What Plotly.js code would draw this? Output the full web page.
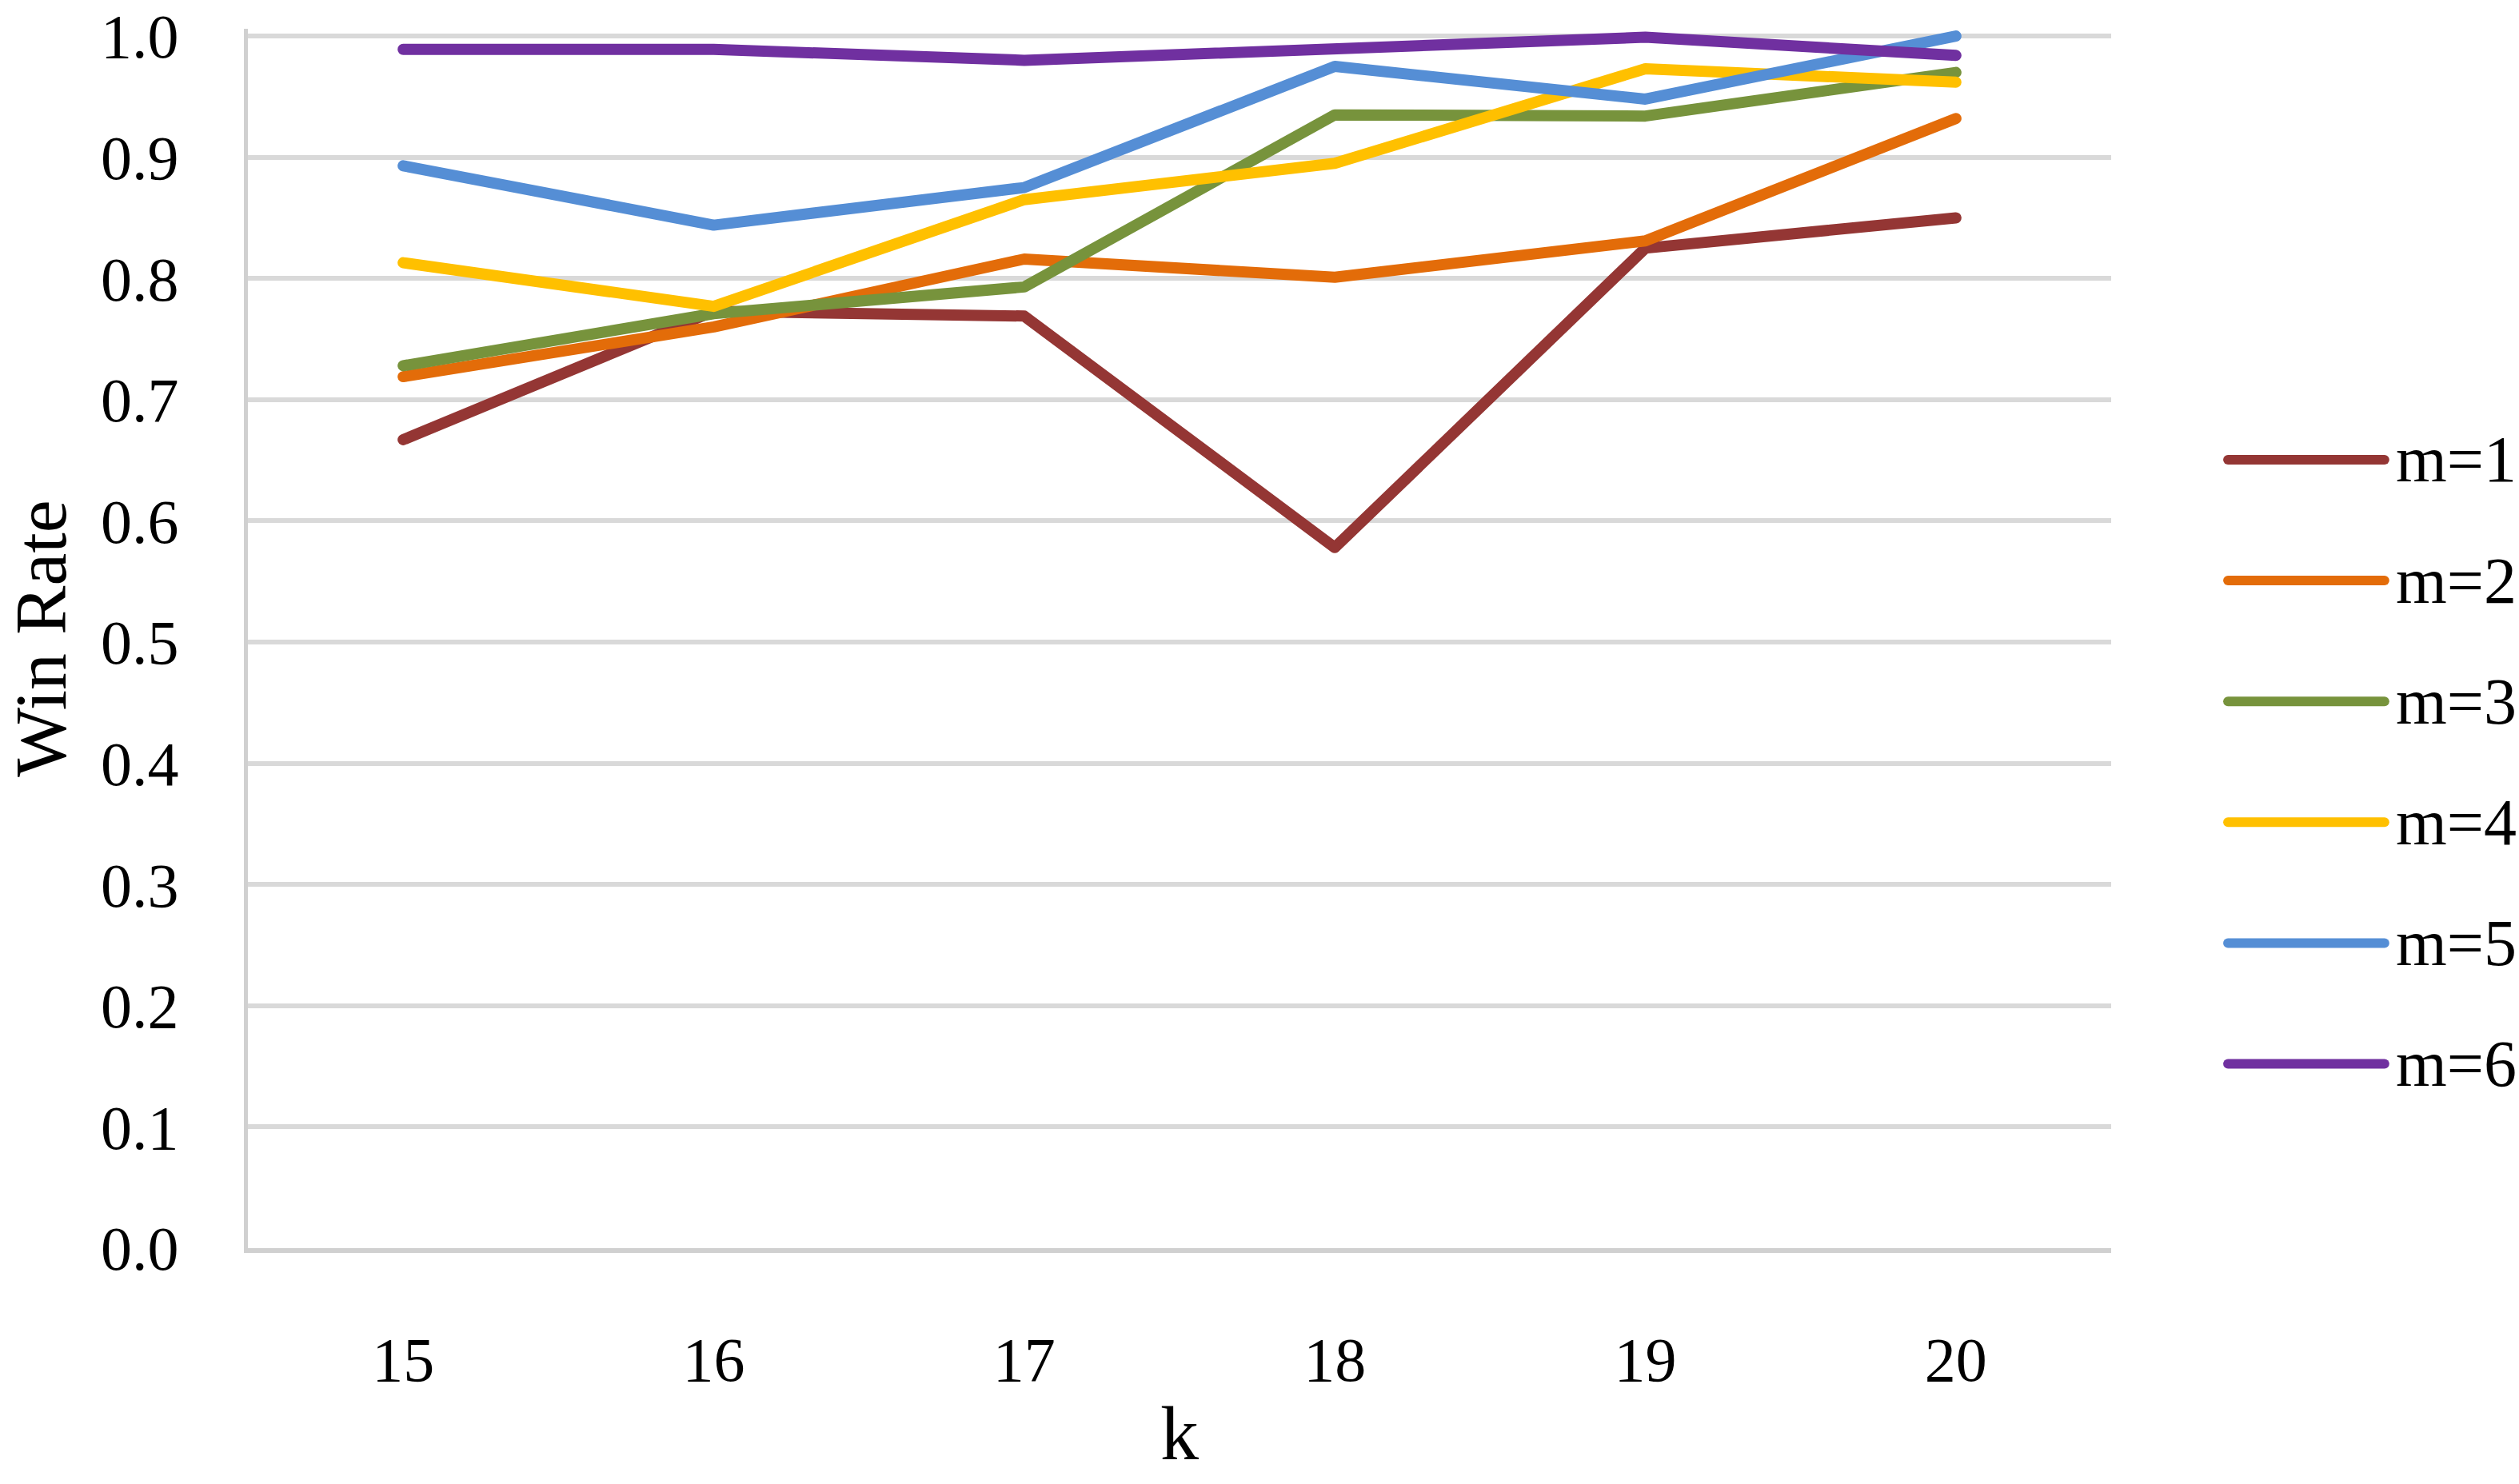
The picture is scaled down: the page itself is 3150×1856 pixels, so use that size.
<!DOCTYPE html>
<html>
<head>
<meta charset="utf-8">
<script src="https://cdn.plot.ly/plotly-3.0.1.min.js"></script>
<style>
  html, body { margin: 0; padding: 0; background: #ffffff; }
  #chart { width: 3150px; height: 1856px; }
  .scatterlayer .js-line { stroke-linecap: round; stroke-linejoin: round; }
  .shapelayer path { stroke-linecap: round; }
</style>
</head>
<body>
<div id="chart"></div>
<script>
// k values on the x axis
var kValues = ['15', '16', '17', '18', '19', '20'];

// win rate per m
var winM1 = [0.667, 0.773, 0.769, 0.578, 0.825, 0.850];
var winM2 = [0.719, 0.760, 0.816, 0.801, 0.831, 0.932];
var winM3 = [0.728, 0.771, 0.793, 0.935, 0.934, 0.970];
var winM4 = [0.813, 0.777, 0.865, 0.895, 0.973, 0.962];
var winM5 = [0.893, 0.844, 0.875, 0.975, 0.948, 1.000];
var winM6 = [0.989, 0.989, 0.980, 0.990, 0.999, 0.984];

var seriesNames = ['m=1', 'm=2', 'm=3', 'm=4', 'm=5', 'm=6'];
var seriesValues = [winM1, winM2, winM3, winM4, winM5, winM6];
var colorsLines = ['#943634', '#E36C09', '#77933C', '#FFC000', '#558ED5', '#7030A0'];

var fontSerif = 'Liberation Serif, Times New Roman, serif';

var data = seriesValues.map(function (vals, i) {
    return {
        x: kValues,
        y: vals,
        name: seriesNames[i],
        type: 'scatter',
        mode: 'lines',
        line: {color: colorsLines[i], width: 14},
        showlegend: false
    };
});

// legend drawn by hand so the sample lines are as long as in the original
var legendShapes = [];
var legendLabels = [];
seriesNames.forEach(function (name, i) {
    var yPos = 0.6466 - i * 0.0991;
    legendShapes.push({
        type: 'line', xref: 'paper', yref: 'paper',
        x0: 1.0627, x1: 1.1467, y0: yPos, y1: yPos,
        line: {color: colorsLines[i], width: 12}
    });
    legendLabels.push({
        xref: 'paper', yref: 'paper',
        x: 1.1519, y: yPos,
        xanchor: 'left', yanchor: 'middle',
        text: name, showarrow: false,
        font: {family: fontSerif, size: 82, color: '#000000'}
    });
});

// x axis title as an annotation, placed a little higher than plotly's default
legendLabels.push({
    xref: 'paper', yref: 'paper',
    x: 0.5, y: -0.1515,
    xanchor: 'center', yanchor: 'middle',
    text: 'k', showarrow: false,
    font: {family: fontSerif, size: 96, color: '#000000'}
});

var layout = {
    width: 3150,
    height: 1856,
    margin: {l: 310, r: 510, t: 36, b: 295},
    paper_bgcolor: '#ffffff',
    plot_bgcolor: '#ffffff',
    font: {family: fontSerif, color: '#000000'},
    xaxis: {
        type: 'category',
        range: [-0.5, 5.5],
        showgrid: false,
        showline: true,
        linecolor: '#d0d0d0',
        linewidth: 6,
        ticks: 'outside',
        ticklen: 66,
        tickcolor: 'rgba(0,0,0,0)',
        tickfont: {family: fontSerif, size: 78, color: '#000000'}
    },
    yaxis: {
        range: [0, 1.006],
        dtick: 0.1,
        tick0: 0,
        tickformat: '.1f',
        showgrid: true,
        gridcolor: '#d9d9d9',
        gridwidth: 6,
        zeroline: false,
        showline: true,
        linecolor: '#d0d0d0',
        linewidth: 5,
        ticks: 'outside',
        ticklen: 66,
        tickcolor: 'rgba(0,0,0,0)',
        tickfont: {family: fontSerif, size: 78, color: '#000000'},
        title: {text: 'Win Rate', font: {family: fontSerif, size: 92, color: '#000000'}, standoff: 28}
    },
    shapes: legendShapes,
    annotations: legendLabels
};

Plotly.newPlot('chart', data, layout, {displayModeBar: false, staticPlot: true});
</script>
</body>
</html>
